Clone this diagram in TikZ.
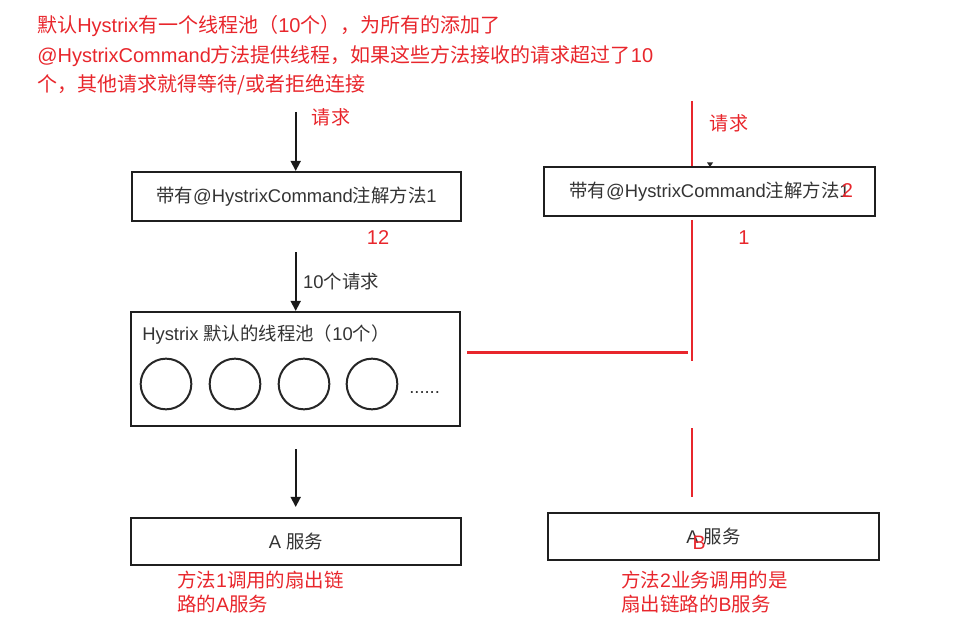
\documentclass[tikz,border=0pt]{standalone}
\usepackage{fontspec}
\setmainfont{Noto Sans CJK SC}
\newfontfamily\latfont{Liberation Sans}
\newcommand\latx[1]{{\latfont #1}}
\usetikzlibrary{arrows.meta}
\definecolor{mark}{RGB}{232,38,44}
\definecolor{ink}{RGB}{51,51,51}
\tikzset{
  box/.style={draw=black!88, line width=1.6pt, inner sep=0pt, text=ink,
    font=\fontsize{13.8}{16}\selectfont},
  worker/.style={draw=black!85, line width=1.5pt, circle, inner sep=0pt,
    minimum size=38pt},
  flow/.style={draw=black!90, line width=1.3pt,
    -{Triangle[width=7.5pt,length=7.5pt]}},
  redline/.style={draw=mark, line width=1.9pt},
  note/.style={text=mark, inner sep=0pt, align=left,
    font=\fontsize{14.6}{18}\selectfont},
  plain/.style={text=ink, inner sep=0pt, font=\fontsize{13.8}{16}\selectfont},
}
\begin{document}
\begin{tikzpicture}[x=0.75pt, y=-0.75pt]
\useasboundingbox (0,0) rectangle (959,627);

% heading remark
\node[note, anchor=west, font=\fontsize{15}{22}\selectfont] (remark) at (37,55.5)
  {默认\latx{Hystrix}有一个线程池（\latx{10}个），为所有的添加了\\
   \latx{@HystrixCommand}方法提供线程，如果这些方法接收的请求超过了\latx{10}\\
   个，其他请求就得等待/或者拒绝连接};

% left column
\node[box, minimum width=246.75pt, minimum height=36.75pt] (m1) at (296.5,196.5)
  {带有\latx{@HystrixCommand}注解方法\latx{1}};
\node[box, minimum width=246.75pt, minimum height=85.5pt] (pool) at (295.5,369) {};
\node[plain, anchor=west] (pooltitle) at (142,335)
  {\latx{Hystrix }默认的线程池（\latx{10}个）};
\node[worker] (w1) at (166,384) {};
\node[worker] (w2) at (235,384) {};
\node[worker] (w3) at (304,384) {};
\node[worker] (w4) at (372,384) {};
\node[plain, anchor=base west] (more) at (409,393) {\latx{......}};
\node[box, minimum width=247.5pt, minimum height=35.25pt] (svcA) at (296,541.5)
  {\latx{A }服务};

\coordinate (inA) at (295.7,112);
\node[note, font=\fontsize{14.3}{17}\selectfont] (reqA) at (331,117) {请求};
\node[note, font=\fontsize{15}{18}\selectfont] (cntA) at (378,238) {\latx{12}};
\node[plain] (ten) at (341,282) {\latx{10}个请求};
\node[note, anchor=west] (descA) at (177,592)
  {方法\latx{1}调用的扇出链\\路的\latx{A}服务};

\draw[flow] (inA) -- (inA |- m1.north);
\draw[flow, shorten <=30*0.75pt] (m1.south -| inA) -- (pool.north -| inA);
\draw[flow, shorten <=22*0.75pt, shorten >=10*0.75pt]
  (pool.south -| inA) -- (svcA.north -| inA);

% right column
\node[box, minimum width=248.25pt, minimum height=36.75pt] (m2) at (709.5,191.5)
  {带有\latx{@HystrixCommand}注解方法\latx{1}};
\node[note, font=\fontsize{15}{18}\selectfont] (two) at (847.5,191) {\latx{2}};
\node[box, minimum width=248.25pt, minimum height=35.25pt] (svcB) at (713.5,536.5)
  {\latx{A }服务};
\node[note] (bname) at (699,543) {\latx{B}};

\node[note, font=\fontsize{14.3}{17}\selectfont] (reqB) at (729,123) {请求};
\node[note, font=\fontsize{15}{18}\selectfont] (cntB) at (744,238) {\latx{1}};
\node[note, anchor=west] (descB) at (621,592)
  {方法\latx{2}业务调用的是\\扇出链路的\latx{B}服务};

% small arrow tip resting on the second box
\fill[black!85] (707,162.5) -- (713,162.5) -- (710,167) -- cycle;

% red dividing strokes
\coordinate (r0) at (692,101);
\coordinate (r1) at (692,220);
\coordinate (r2) at (692,361);
\coordinate (h1) at (467,352.5);
\coordinate (h2) at (688,352.5);
\coordinate (r3) at (692,428);
\coordinate (r4) at (692,497);
\draw[redline] (r0) -- (r0 |- m2.north);
\draw[redline] (r1) -- (r2);
\draw[redline] (h1) -- (h2);
\draw[redline] (r3) -- (r4);
\end{tikzpicture}
\end{document}
